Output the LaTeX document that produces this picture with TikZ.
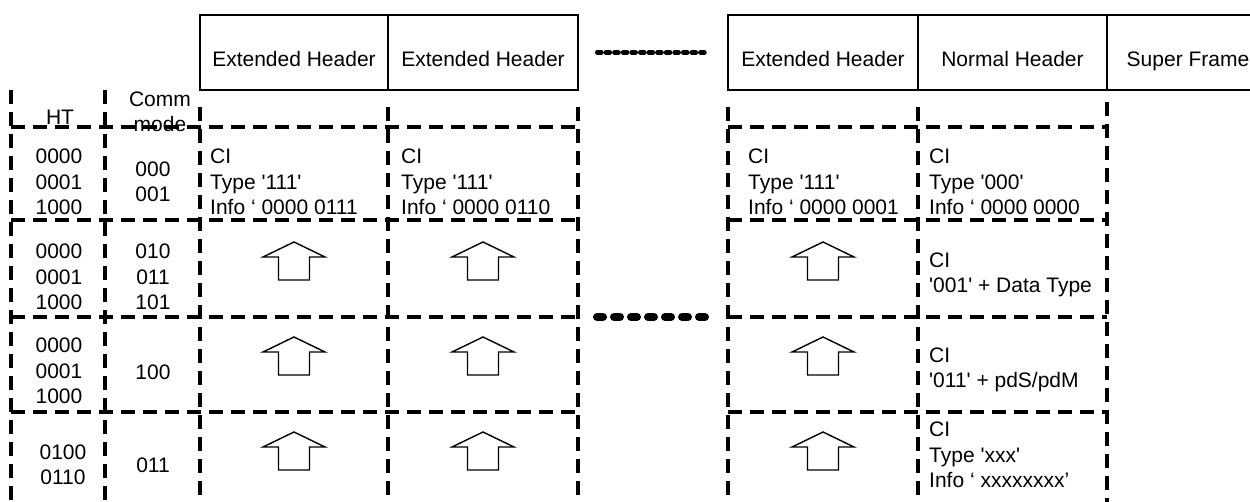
\documentclass[tikz,border=0pt]{standalone}
\usepackage{fontspec}
\setmainfont{Liberation Sans}[Ligatures=TeXOff]

\begin{document}
\begin{tikzpicture}[x=1pt, y=-1pt,
    every node/.style = {font=\fontsize{21}{25.5}\selectfont, inner sep=0pt},
    hdr/.style = {draw, line width=2.5pt, minimum height=75pt, text height=28pt, text depth=0pt},
    cellline/.style = {line width=3.5pt, dash pattern=on 14pt off 8pt},
    smalldots/.style = {line width=4.5pt, line cap=round, dash pattern=on 4pt off 4.6pt},
    bigdots/.style = {line width=8pt, line cap=round, dash pattern=on 6pt off 11pt},
    cell/.style = {anchor=west, align=left},
    code/.style = {align=center},
    uparrow/.pic = {\draw[line width=1.4pt, line join=miter] (0,0) -- (31,15) -- (15.5,15) -- (15.5,38)
        -- (-15.5,38) -- (-15.5,15) -- (-31,15) -- cycle;}]
    \useasboundingbox (0,0) rectangle (1250,502);

    % frame headers
    \node[hdr, minimum width=188pt] (ext1) at (294,52.5) {Extended Header};
    \node[hdr, minimum width=190pt] (ext2) at (483,52.5) {Extended Header};
    \node[hdr, minimum width=190pt] (extn) at (823,52.5) {Extended Header};
    \node[hdr, minimum width=189pt] (norm) at (1012.5,52.5) {Normal Header};
    \node[hdr, minimum width=162pt] (sf) at (1188,52.5) {Super Frame};
    \draw[smalldots, shorten <=18pt, shorten >=22pt] (ext2) -- (extn);

    % dashed table
    \foreach \x/\t in {11/90, 105/90, 200/107, 388/107, 578/107, 728/107, 918/107, 1107/102}
        \draw[cellline] (\x,\t) -- (\x,506);
    \foreach \y in {127, 220, 317, 412} {
        \draw[cellline] (11,\y) -- (578,\y);
        \draw[cellline] (728,\y) -- (1107,\y);
    }
    \draw[bigdots] (597,317) -- (705,317);

    % left columns
    \node (ht) at (60,117.5) {HT};
    \node[code] (comm) at (160,112) {Comm\\mode};
    \node[code] (ht1) at (59,182) {0000\\0001\\1000};
    \node[code] (cm1) at (153,182) {000\\001};
    \node[code] (ht2) at (59,277) {0000\\0001\\1000};
    \node[code] (cm2) at (153,277) {010\\011\\101};
    \node[code] (ht3) at (59,371) {0000\\0001\\1000};
    \node[code] (cm3) at (153,372) {100};
    \node[code] (ht4) at (63,465) {0100\\0110};
    \node[code] (cm4) at (153,465) {011};

    % CI contents
    \node[cell] (ci1) at (210,182) {CI\\Type '111'\\Info ‘ 0000 0111};
    \node[cell] (ci2) at (401,182) {CI\\Type '111'\\Info ‘ 0000 0110};
    \node[cell] (cin) at (748,182) {CI\\Type '111'\\Info ‘ 0000 0001};
    \node[cell] (ci0) at (929,182) {CI\\Type '000'\\Info ‘ 0000 0000};
    \node[cell] (cidata) at (929,275) {CI\\'001' + Data Type};
    \node[cell] (cipd) at (929,370) {CI\\'011' + pdS/pdM};
    \node[cell] (cixx) at (929,455) {CI\\Type 'xxx'\\Info ‘ xxxxxxxx’};

    % arrows
    \pic at (294,242) {uparrow};
    \pic at (483,242) {uparrow};
    \pic at (823,242) {uparrow};
    \pic at (294,337) {uparrow};
    \pic at (483,337) {uparrow};
    \pic at (823,337) {uparrow};
    \pic at (294,432) {uparrow};
    \pic at (483,432) {uparrow};
    \pic at (823,432) {uparrow};
\end{tikzpicture}
\end{document}
